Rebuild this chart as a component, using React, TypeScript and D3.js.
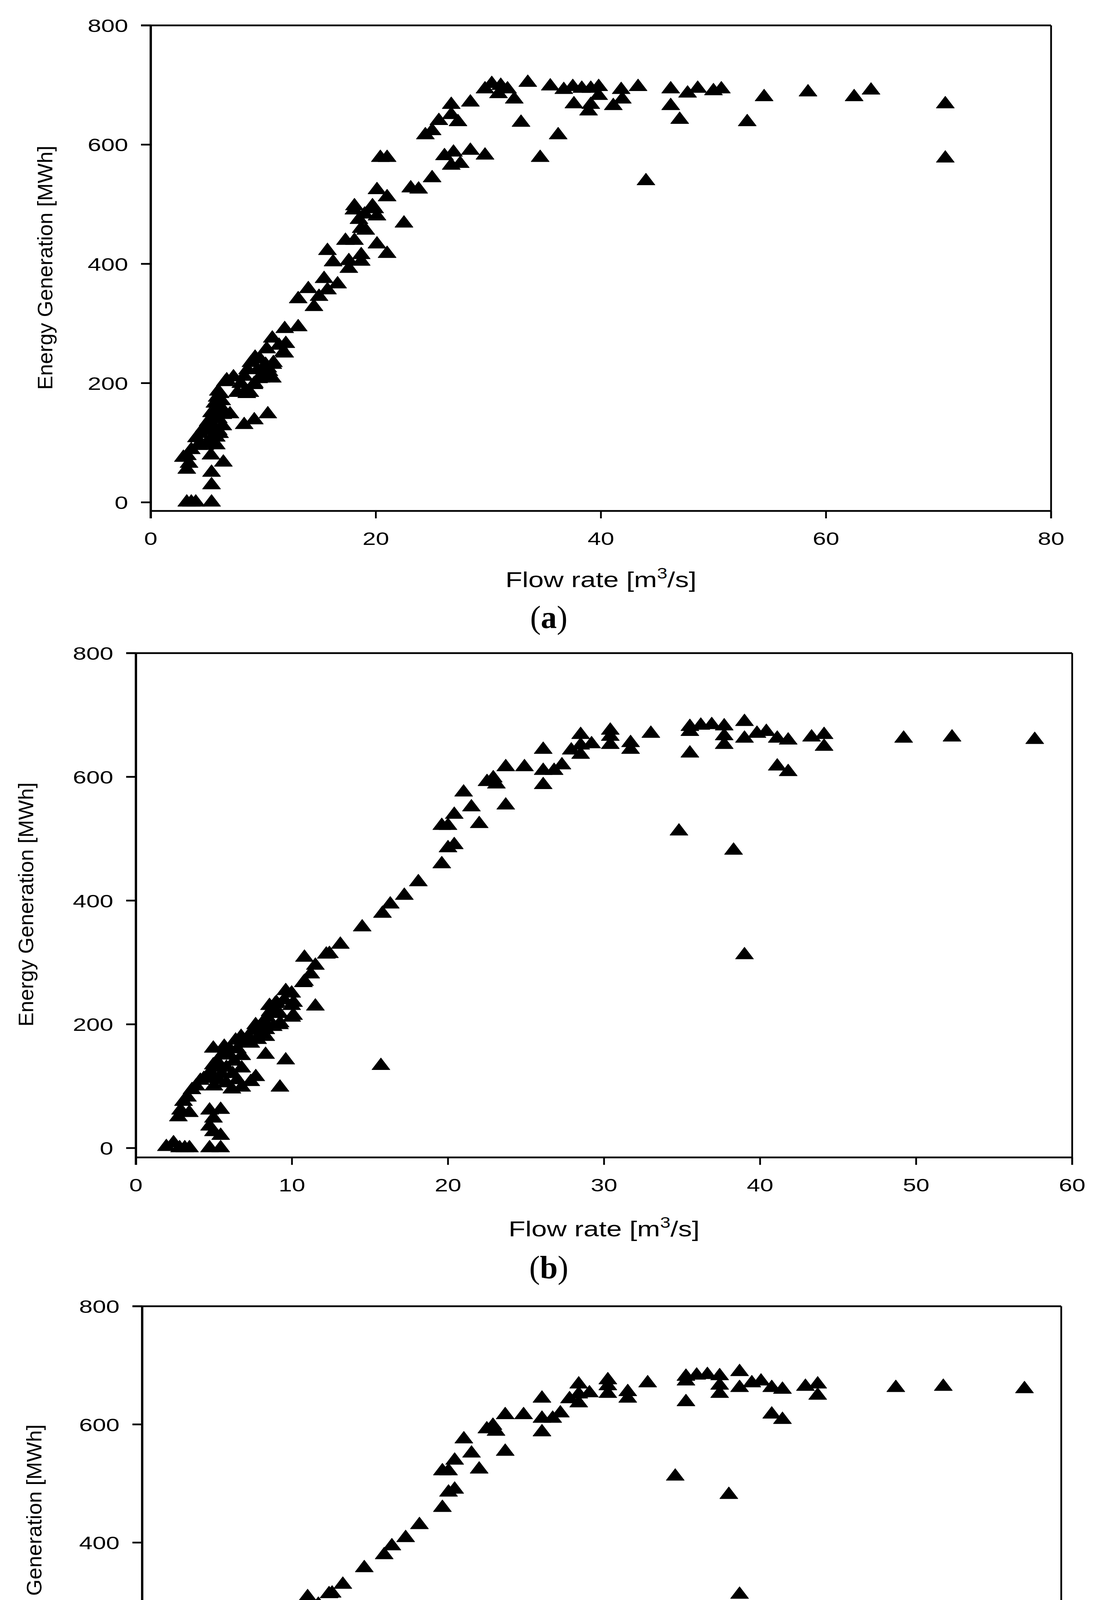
import React from 'react';
import * as d3 from 'd3';

// ---------- data ----------
const yTicks = [0, 200, 400, 600, 800];
const xTicksA = [0, 20, 40, 60, 80];
const xTicksB = [0, 10, 20, 30, 40, 50, 60];
const yTitle = 'Energy Generation [MWh]';

// panel (a): [flow rate m3/s, energy MWh]
const pointsA: [number, number][] = [
  [3.2, 0], [3.6, 0], [4.0, 0], [5.4, 0],
  [5.4, 29], [5.4, 50], [6.45, 67], [3.2, 55], [3.4, 65], [5.35, 79],
  [2.9, 75], [3.25, 78], [3.6, 88], [4.06, 108], [4.4, 115], [4.75, 125], [5.45, 140], [5.68, 155], [5.7, 166], [5.9, 176], [6.0, 186],
  [5.82, 96], [5.82, 109], [6.11, 115], [6.4, 128], [6.4, 147], [7.04, 148], [5.0, 100], [5.2, 120], [5.5, 130], [6.0, 140], [6.2, 160],
  [5.6, 110], [5.3, 105], [4.8, 95], [4.2, 95], [5.1, 135], [5.4, 150], [5.8, 145], [6.3, 170], [6.0, 120],
  [6.16, 182], [6.62, 202], [6.75, 205], [7.35, 210],
  [8.3, 130], [9.2, 138], [10.4, 148],
  [7.7, 184], [8.3, 184], [8.53, 182], [8.8, 184], [9.17, 197], [9.58, 207], [10.4, 216], [10.4, 225], [10.84, 231], [9.27, 243], [11.9, 250],
  [8.0, 199], [8.3, 211], [8.6, 222], [8.9, 234], [9.7, 240], [9.5, 222], [10.2, 231], [10.5, 219], [10.8, 208], [9.8, 208], [9.2, 199],
  [10.9, 234], [10.3, 257], [10.8, 275], [11.4, 263], [12.0, 266], [11.8, 252], [11.9, 291], [13.1, 294],
  [13.1, 341], [14.0, 358], [14.5, 328], [14.95, 345], [15.4, 375], [15.7, 356], [15.7, 422], [16.2, 403], [16.6, 366], [17.3, 439],
  [17.6, 392], [17.6, 405], [18.1, 439], [18.7, 415], [18.7, 404], [18.1, 497], [18.05, 490], [18.5, 474], [19.0, 483], [18.7, 459],
  [19.1, 456], [19.7, 497], [19.9, 492], [20.1, 480], [20.1, 433], [21.0, 417], [20.1, 524], [21.0, 512], [20.4, 578], [21.0, 578],
  [22.5, 468], [23.1, 527], [23.8, 525], [25.0, 544], [24.4, 616], [25.0, 623], [25.6, 640], [26.1, 581], [26.7, 667], [26.7, 650],
  [26.9, 587], [26.7, 565], [27.5, 568], [27.3, 638], [28.4, 671], [28.4, 590], [29.7, 582], [29.7, 693], [30.3, 702], [31.1, 699],
  [30.9, 685], [31.7, 693], [32.3, 676], [32.9, 637], [33.5, 704], [34.6, 578],
  [35.5, 698], [36.7, 692], [37.5, 697], [38.3, 694], [39.1, 694], [39.8, 697], [39.8, 682], [39.1, 667], [38.9, 656], [37.6, 668],
  [36.2, 616], [41.8, 692], [41.9, 676], [41.1, 665], [43.3, 697], [46.2, 693], [46.2, 665], [47.0, 642], [47.7, 686], [48.6, 694],
  [50.0, 690], [50.7, 693], [44.0, 539], [53.0, 638], [54.5, 680], [58.4, 688], [62.5, 680], [64.0, 691], [70.6, 668], [70.6, 577],
];

// panels (b) and (c): [flow rate m3/s, energy MWh]
const pointsB: [number, number][] = [
  [1.95, 2], [2.41, 8], [2.8, 0], [3.13, 0], [3.43, 0], [4.72, 0], [5.43, 0],
  [5.43, 20], [4.72, 35], [4.97, 26], [4.97, 48], [4.72, 61], [5.43, 62], [2.72, 50], [3.42, 57], [2.86, 61],
  [3.05, 75], [3.3, 82], [3.59, 94], [3.85, 100], [4.13, 109], [4.35, 112], [4.59, 117], [4.96, 134], [4.96, 161], [5.66, 164],
  [6.39, 174], [6.74, 180], [7.67, 199], [8.56, 230], [8.92, 233], [9.6, 254], [9.98, 250], [10.73, 267],
  [9.98, 211], [9.98, 230], [9.6, 142], [8.31, 151], [9.23, 98], [7.68, 115],
  [9.24, 202], [8.32, 191], [8.32, 180], [7.36, 169], [6.78, 149], [6.78, 129], [7.36, 107], [6.78, 98], [6.15, 95],
  [5.0, 100], [5.3, 110], [5.5, 120], [5.2, 140], [5.8, 130], [6.0, 150], [5.5, 150], [6.2, 120], [5.8, 105], [6.5, 110],
  [6.3, 140], [6.0, 160], [4.7, 120], [5.0, 115], [5.2, 130], [6.5, 160], [7.0, 170], [7.2, 180], [7.5, 190], [7.9, 195],
  [8.2, 205], [8.0, 185], [7.8, 175], [8.4, 211], [8.6, 220], [8.8, 223], [9.0, 235], [9.2, 217], [9.2, 199], [8.8, 196],
  [9.5, 239], [10.1, 235], [10.1, 214],
  [11.5, 229], [10.8, 308], [10.8, 269], [11.2, 281], [11.5, 295], [12.2, 313], [12.4, 314], [13.1, 329], [14.5, 357], [15.7, 133],
  [15.8, 379], [16.3, 394], [17.2, 408], [18.1, 430], [19.6, 459], [20.0, 485], [20.4, 490], [19.6, 521], [20.0, 521], [20.4, 539],
  [21.0, 575], [21.5, 551], [22.0, 524], [22.5, 592], [22.9, 598], [23.1, 588], [23.7, 616], [23.7, 554], [24.9, 616], [26.1, 644],
  [26.1, 610], [26.1, 587], [26.8, 610], [27.3, 619], [27.9, 643], [28.5, 668],
  [28.5, 651], [28.5, 636], [29.2, 653], [30.4, 675], [30.4, 665], [30.4, 652], [31.7, 655], [31.7, 644], [33.0, 670], [35.5, 681],
  [35.5, 673], [35.5, 638], [34.8, 512], [36.2, 683], [36.9, 684], [37.7, 682], [37.7, 666], [37.7, 652], [38.3, 481], [39.0, 689],
  [39.0, 662], [39.0, 312], [39.8, 670], [40.4, 673], [41.1, 662], [41.8, 659], [41.1, 617], [41.8, 608], [43.3, 664], [44.1, 668],
  [44.1, 649], [49.2, 662], [52.3, 664], [57.6, 660],
];

// ---------- layout ----------
interface PanelCfg {
  left: number; right: number; top: number; y0: number; axisY: number;
  xMax: number; xTicks: number[]; points: [number, number][];
  yLabelX: number; xLabelY: number; letterY: number; letter: string;
}

const panels: PanelCfg[] = [
  { left: 386, right: 2691, top: 65, y0: 1286, axisY: 1308, xMax: 80, xTicks: xTicksA, points: pointsA, yLabelX: 134, xLabelY: 1503, letterY: 1608, letter: 'a' },
  { left: 348, right: 2745, top: 1672, y0: 2939, axisY: 2963, xMax: 60, xTicks: xTicksB, points: pointsB, yLabelX: 85, xLabelY: 3165, letterY: 3272, letter: 'b' },
  { left: 364, right: 2717, top: 3344, y0: 4554, axisY: 4577, xMax: 60, xTicks: xTicksB, points: pointsB, yLabelX: 106, xLabelY: 4770, letterY: 4873, letter: 'c' },
];

const SANS = "'Liberation Sans', Arial, Helvetica, sans-serif";
const SERIF = "'Liberation Serif', 'Times New Roman', Times, serif";

function Panel({ p }: { p: PanelCfg }) {
  const x = d3.scaleLinear().domain([0, p.xMax]).range([p.left, p.right]);
  const y = d3.scaleLinear().domain([0, 800]).range([p.y0, p.top]);
  const yTickLen = 25;
  const xTickLen = 19;
  const thin = 4.5;
  const cx = (p.left + p.right) / 2;
  const cy = (p.top + p.y0) / 2 + 10;
  const tri = (px: number, py: number) =>
    `M${px},${py - 20}L${px + 23},${py + 10}L${px - 23},${py + 10}Z`;

  return (
    <g>
      {/* frame */}
      <line x1={x(0) - yTickLen} x2={x(p.xMax)} y1={y(800)} y2={y(800)} stroke="#000" strokeWidth={thin} />
      <line x1={x(p.xMax)} x2={x(p.xMax)} y1={y(800)} y2={p.axisY + xTickLen} stroke="#000" strokeWidth={thin} />
      <line x1={x(0)} x2={x(p.xMax)} y1={p.axisY} y2={p.axisY} stroke="#000" strokeWidth={thin} />
      <line x1={x(0)} x2={x(0)} y1={y(800) - 2} y2={p.axisY + xTickLen} stroke="#000" strokeWidth={6} />

      {/* y ticks */}
      {yTicks.map((t) => (
        <g key={'y' + t}>
          <line x1={x(0) - yTickLen} x2={x(0)} y1={y(t)} y2={y(t)} stroke="#000" strokeWidth={thin} />
          <text
            transform={`translate(${x(0) - 58},${y(t) + 17}) scale(1.32,1)`}
            textAnchor="end"
            fontFamily={SANS}
            fontSize={47}
            fill="#000"
          >
            {t}
          </text>
        </g>
      ))}

      {/* x ticks */}
      {p.xTicks.map((t) => (
        <g key={'x' + t}>
          <line x1={x(t)} x2={x(t)} y1={p.axisY} y2={p.axisY + xTickLen} stroke="#000" strokeWidth={thin} />
          <text
            transform={`translate(${x(t)},${p.axisY + 87}) scale(1.3,1)`}
            textAnchor="middle"
            fontFamily={SANS}
            fontSize={47}
            fill="#000"
          >
            {t}
          </text>
        </g>
      ))}

      {/* axis titles */}
      <text
        transform={`translate(${cx},${p.xLabelY}) scale(1.26,1)`}
        textAnchor="middle"
        fontFamily={SANS}
        fontSize={56}
        fill="#000"
      >
        Flow rate [m<tspan fontSize={38} dy={-22}>3</tspan><tspan dy={22}>/s]</tspan>
      </text>
      <text
        transform={`translate(${p.yLabelX},${cy}) rotate(-90)`}
        textAnchor="middle"
        fontFamily={SANS}
        fontSize={54}
        textLength={625}
        lengthAdjust="spacingAndGlyphs"
        fill="#000"
      >
        {yTitle}
      </text>

      {/* markers */}
      {p.points.map(([fx, e], i) => (
        <path
          key={i}
          d={tri(x(fx), y(e))}
          fill="#000"
          stroke="#000"
          strokeWidth={1.5}
          strokeLinejoin="round"
        />
      ))}

      {/* panel letter */}
      <text x={1405} y={p.letterY} textAnchor="middle" fontFamily={SERIF} fontSize={82} fill="#000">
        (<tspan fontWeight="bold">{p.letter}</tspan>)
      </text>
    </g>
  );
}

export default function App() {
  return (
    <svg
      width={2806}
      height={4936}
      viewBox="0 0 2806 4936"
      style={{ position: 'absolute', left: 0, top: 0, background: '#fff' }}
      xmlns="http://www.w3.org/2000/svg"
    >
      <rect x={0} y={0} width={2806} height={4936} fill="#fff" />
      {panels.map((p) => (
        <Panel key={p.letter} p={p} />
      ))}
    </svg>
  );
}
